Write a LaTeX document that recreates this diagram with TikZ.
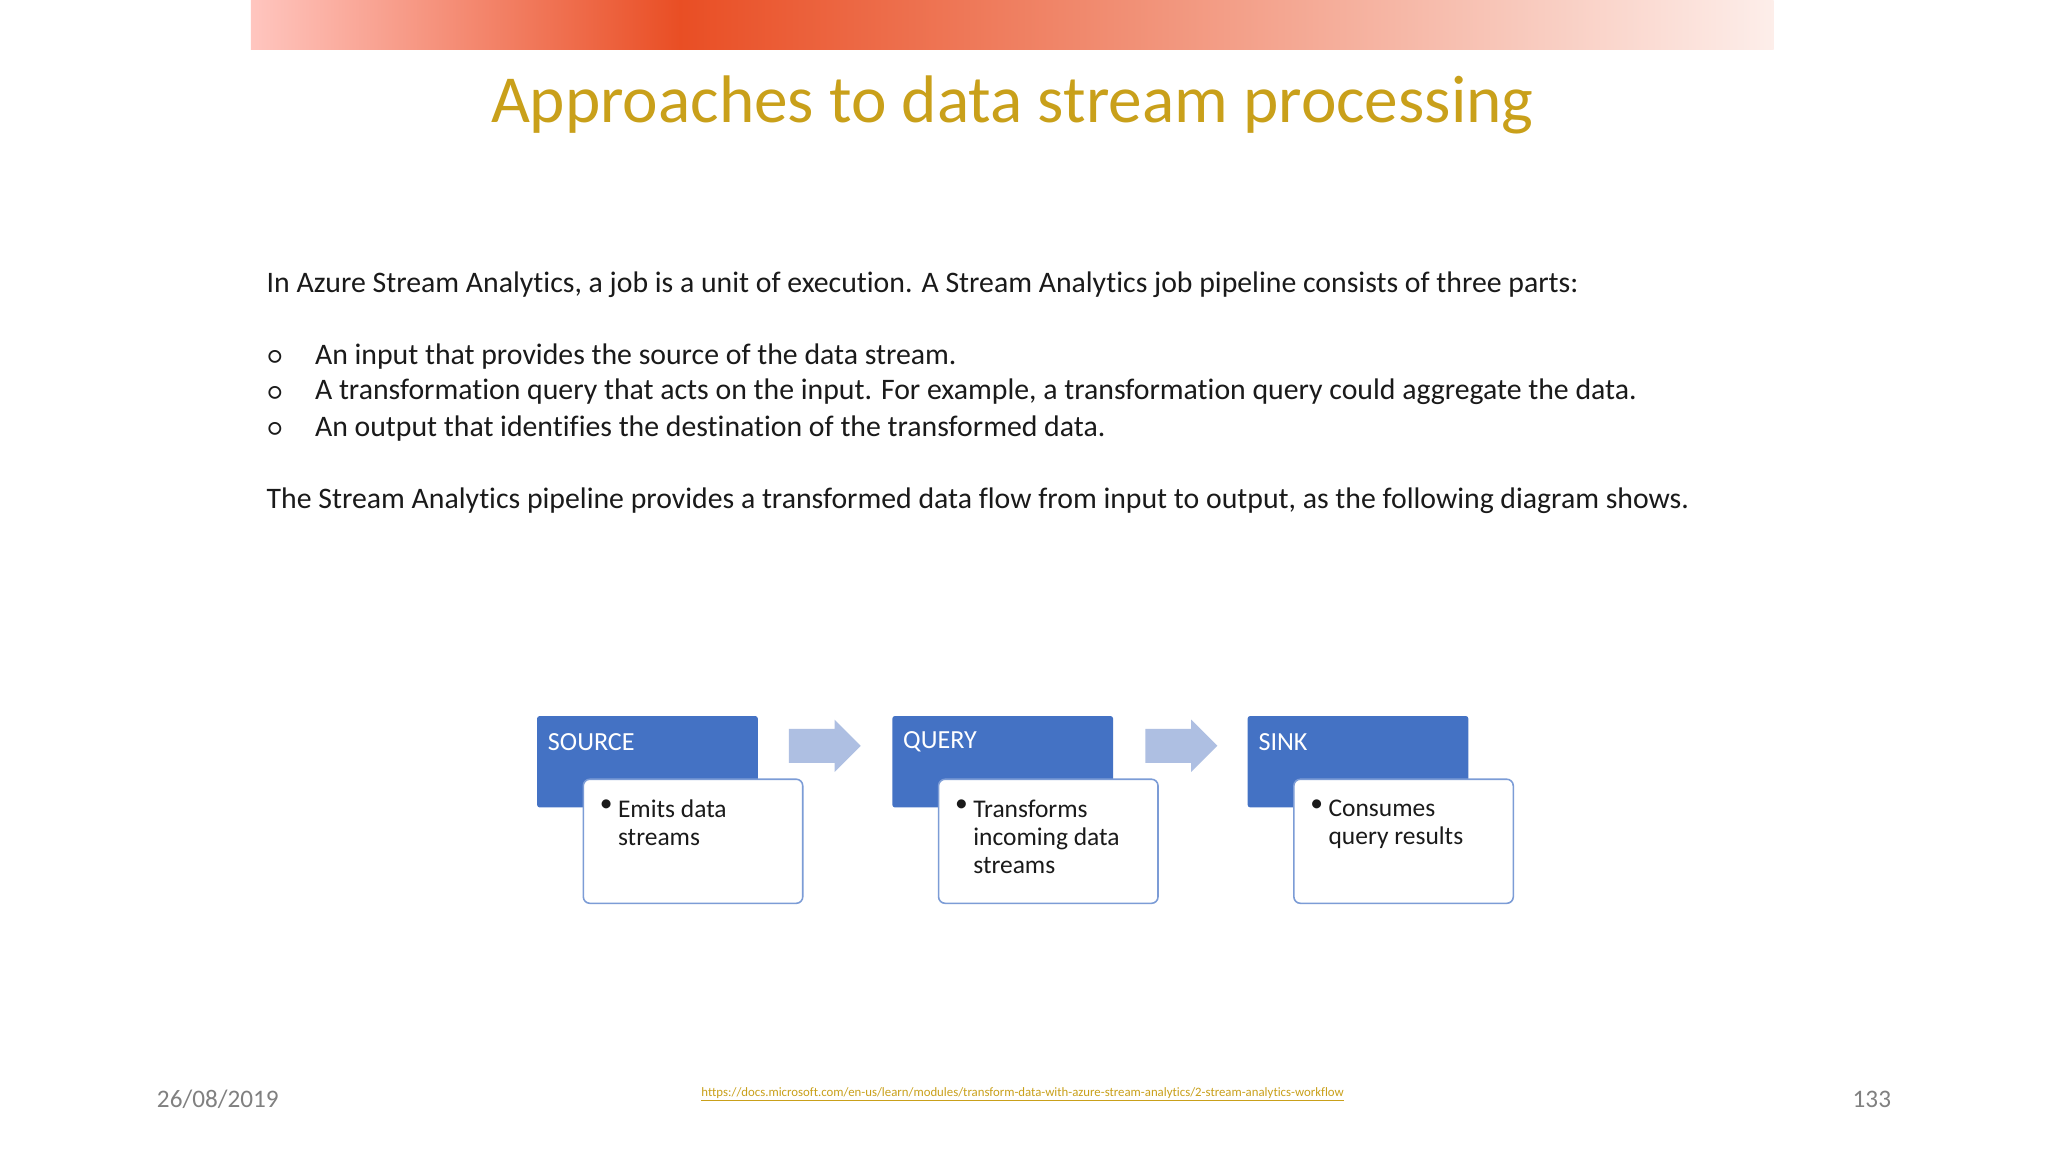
\documentclass[tikz,border=0pt]{standalone}
\usepackage{fontspec}
\setmainfont[Ligatures=NoCommon]{Carlito}
\definecolor{gold}{HTML}{C9A01A}
\definecolor{hdr}{HTML}{4472C4}
\definecolor{arr}{HTML}{AEBFE2}
\definecolor{txt}{HTML}{1A1A1A}
\tikzset{
  hbox/.style={fill=hdr,rounded corners=2pt,minimum width=169pt,minimum height=70pt,anchor=north west,inner sep=0pt},
  bbox/.style={fill=white,draw=hdr!70,line width=1.2pt,rounded corners=5pt,minimum width=168pt,minimum height=95pt,anchor=north west,inner sep=0pt},
  htxt/.style={text=white,anchor=west,font=\fontsize{20}{24}\selectfont},
  btxt/.style={text=txt,anchor=north west,align=left,font=\fontsize{19.5}{21.5}\selectfont,inner sep=0pt},
  barrow/.style={fill=arr},
  body/.style={text=txt,anchor=west,font=\fontsize{22.8}{26}\selectfont,inner sep=0pt}
}
\begin{document}
\begin{tikzpicture}[x=1pt,y=-1pt]
\useasboundingbox[fill=white] (0,0) rectangle (1568,882);
\shade[left color=orange!20!red!25!white,right color={rgb,255:red,233;green,78;blue,36}] (192,0) rectangle (521,38);
\shade[left color={rgb,255:red,233;green,78;blue,36},right color={rgb,255:red,253;green,238;blue,234}] (520,0) rectangle (1358,38);
\node[text=gold,font=\fontsize{51.5}{60}\selectfont] (title) at (775,80) {Approaches to data stream processing};
\node[body] (p1) at (204,218) {In Azure Stream Analytics, a job is a unit of execution. A Stream Analytics job pipeline consists of three parts:};
\foreach \y/\t [count=\i] in {273/{An input that provides the source of the data stream.},300/{A transformation query that acts on the input. For example, a transformation query could aggregate the data.},328/{An output that identifies the destination of the transformed data.}}{
  \node[body,font=\fontsize{19}{22}\selectfont] (b\i) at (205,\y+1) {○};
  \node[body] (l\i) at (241,\y) {\t};
}
\node[body] (p2) at (204,383) {The Stream Analytics pipeline provides a transformed data flow from input to output, as the following diagram shows.};
\foreach \n/\x/\h/\b in {s/411/SOURCE/{Emits data\\streams},q/683/QUERY/{Transforms\\incoming data\\streams},k/955/SINK/{Consumes\\query results}}{
  \node[hbox] (\n h) at (\x,548) {};
  \node[htxt] (\n ht) at (\x+5,568) {\h};
  \node[bbox] (\n b) at (\x+35,596) {};
  \node[btxt] (\n bt) at (\x+48,612) {•};
  \node[btxt] (\n bx) at (\x+62,612) {\b};
}
\foreach \ax in {604,877}{
  \fill[barrow] (\ax,558) -- (\ax+35,558) -- (\ax+35,551) -- (\ax+55,571) -- (\ax+35,591) -- (\ax+35,584) -- (\ax,584) -- cycle;
}
\node[text=gray,anchor=west,font=\fontsize{19.3}{22}\selectfont,inner sep=0pt] (date) at (120,842) {26/08/2019};
\node[text=gray,anchor=east,font=\fontsize{19.3}{22}\selectfont,inner sep=0pt] (pg) at (1448,842) {133};
\node[text=gold,font=\fontsize{9.8}{11}\selectfont,inner sep=0pt] (link) at (783,838) {\underline{https://docs.microsoft.com/en-us/learn/modules/transform-data-with-azure-stream-analytics/2-stream-analytics-workflow}};
\end{tikzpicture}
\end{document}
